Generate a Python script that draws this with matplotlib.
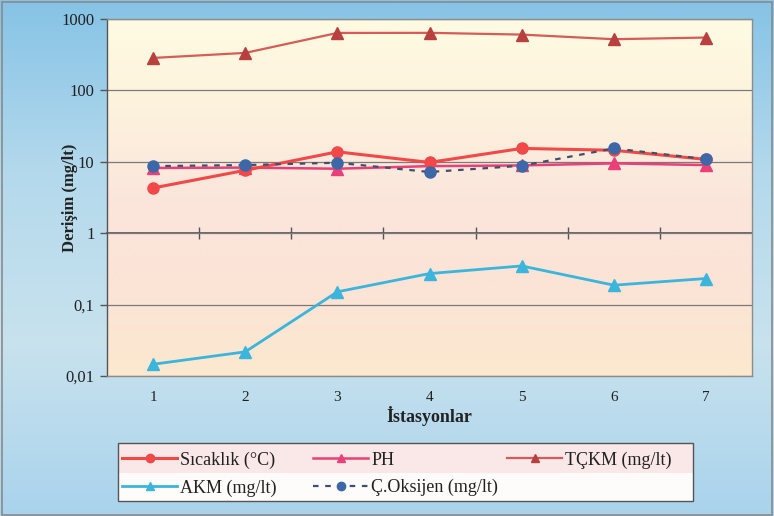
import matplotlib
import matplotlib.pyplot as plt
import numpy as np
from matplotlib.patches import Rectangle

matplotlib.use("Agg")

# data
stations = [1, 2, 3, 4, 5, 6, 7]
sicaklik = [4.3, 7.6, 13.8, 9.8, 15.4, 14.5, 10.8]
ph = [8.2, 8.3, 8.0, 8.7, 8.9, 9.5, 9.0]
tckm = [285, 335, 638, 640, 605, 521, 550]
akm = [0.0146, 0.0218, 0.151, 0.272, 0.348, 0.187, 0.232]
oksijen = [8.7, 9.0, 9.7, 7.2, 8.8, 15.4, 10.9]

y_ticks = [0.01, 0.1, 1, 10, 100, 1000]
y_labels = ["0,01", "0,1", "1", "10", "100", "1000"]

plt.rcParams["font.family"] = ["Liberation Serif", "DejaVu Serif"]

W, H = 774, 516
fig = plt.figure(figsize=(W / 100, H / 100), dpi=100)


def fx(px):
    return px / W


def fy(py):
    return 1 - py / H


# ── background gradients ────────────────────────────────────────────────
bg = fig.add_axes([0, 0, 1, 1], zorder=-10)
grad = np.linspace(0, 1, 256).reshape(-1, 1)
bg_cmap = matplotlib.colors.LinearSegmentedColormap.from_list(
    "bg", ["#86c3e6", "#b4d9ec", "#c8e2ee", "#a9d3ec"])
bg.imshow(grad, aspect="auto", cmap=bg_cmap, extent=[0, 1, 0, 1])
bg.set_axis_off()
fig.patches.append(Rectangle((0.002, 0.002), 0.996, 0.994, transform=fig.transFigure,
                             fill=False, edgecolor="#8a8a8a", linewidth=1.2))

ax = fig.add_axes([fx(107), fy(376), fx(752) - fx(107), fy(19) - fy(376)])
ax.set_yscale("log")
ax.set_xlim(0.5, 7.5)
ax.set_ylim(0.01, 1000)

pa_cmap = matplotlib.colors.LinearSegmentedColormap.from_list(
    "pa", ["#fce9cf", "#fbe3d6", "#fbe6dc", "#fdf2dc", "#fffbe3"])
ax.imshow(grad, aspect="auto", cmap=pa_cmap, extent=[0, 1, 0, 1],
          transform=ax.transAxes, zorder=0, origin="lower")

# ── series ──────────────────────────────────────────────────────────────
l_tckm, = ax.plot(stations, tckm, color="#d65c58", linewidth=1.6, marker="^",
                  markersize=8, markerfacecolor="#b8413f", markeredgecolor="#b8413f",
                  label="TÇKM (mg/lt)", zorder=4)
l_ph, = ax.plot(stations, ph, color="#ea3f78", linewidth=1.8, marker="^",
                markersize=8, markerfacecolor="#ea3f78", markeredgecolor="#ea3f78",
                label="PH", zorder=4)
l_oks, = ax.plot(stations, oksijen, color="#3f4f6e", linewidth=1.6,
                 linestyle=(0, (2.5, 3)), marker="o", markersize=8,
                 markerfacecolor="#3d68a8", markeredgecolor="#3d68a8",
                 label="Ç.Oksijen (mg/lt)", zorder=5)
l_sic, = ax.plot(stations, sicaklik, color="#f24848", linewidth=2.2, marker="o",
                 markersize=8, markerfacecolor="#f24848", markeredgecolor="#f24848",
                 label="Sıcaklık (°C)", zorder=4)
l_akm, = ax.plot(stations, akm, color="#3bb5dc", linewidth=2.0, marker="^",
                 markersize=9, markerfacecolor="#3bb5dc", markeredgecolor="#3bb5dc",
                 label="AKM (mg/lt)", zorder=4)

# ── axes styling ────────────────────────────────────────────────────────
ax.set_yticks(y_ticks)
ax.set_yticklabels(y_labels)
ax.yaxis.set_minor_locator(matplotlib.ticker.NullLocator())
ax.set_xticks(stations)
ax.tick_params(axis="x", length=0, pad=11, labelsize=11, colors="#222")
ax.tick_params(axis="y", length=5, width=1, color="#555", labelsize=12,
               colors="#222", pad=4)
ax.grid(axis="y", which="major", color="#7a7a7a", linewidth=0.9)
for sp in ax.spines.values():
    sp.set_edgecolor("#8c8c8c")
    sp.set_linewidth(1.0)
ax.spines["left"].set_edgecolor("#555")

# category axis crosses at 1
sec = ax.secondary_xaxis(0.4)
sec.set_xticks([1.5, 2.5, 3.5, 4.5, 5.5, 6.5])
sec.tick_params(direction="inout", length=9, width=1, color="#555",
                labelbottom=False, labeltop=False)
sec.spines["bottom"].set_edgecolor("#555")
sec.spines["bottom"].set_linewidth(1.2)

ax.set_xlabel("İstasyonlar", fontsize=13, fontweight="bold", labelpad=1,
              color="#222")
ax.set_ylabel("Derişim (mg/lt)", fontsize=12, fontweight="bold", color="#222")
ax.yaxis.set_label_coords((78 - 107) / 645, 0.5)

# ── legend: box plus three columns ──────────────────────────────────────
fig.patches.append(Rectangle((fx(118), fy(473)), fx(693) - fx(118), fy(443) - fy(473),
                             transform=fig.transFigure, facecolor="#fae7e7",
                             edgecolor="none", zorder=2))
fig.patches.append(Rectangle((fx(118), fy(501)), fx(693) - fx(118), fy(473) - fy(501),
                             transform=fig.transFigure, facecolor="#fdfcfb",
                             edgecolor="none", zorder=2))
fig.patches.append(Rectangle((fx(118), fy(501)), fx(693) - fx(118), fy(443) - fy(501),
                             transform=fig.transFigure, fill=False,
                             edgecolor="#555", linewidth=1.0, zorder=3))

leg_kw = dict(loc="center left", fontsize=13, frameon=False, handlelength=3.05,
              handletextpad=0.17, borderpad=0, borderaxespad=0, labelspacing=0.58,
              labelcolor="#222")
columns = [([l_sic, l_akm], 122, 474), ([l_ph, l_oks], 313, 474), ([l_tckm], 507, 460)]
for handles, x_px, y_px in columns:
    leg = fig.legend(handles, [hh.get_label() for hh in handles],
                     bbox_to_anchor=(fx(x_px), fy(y_px)), **leg_kw)
    leg.set_zorder(5)
    for lh in leg.legend_handles:
        lh.set_markersize(6)

fig.savefig("out.png", dpi=100)
